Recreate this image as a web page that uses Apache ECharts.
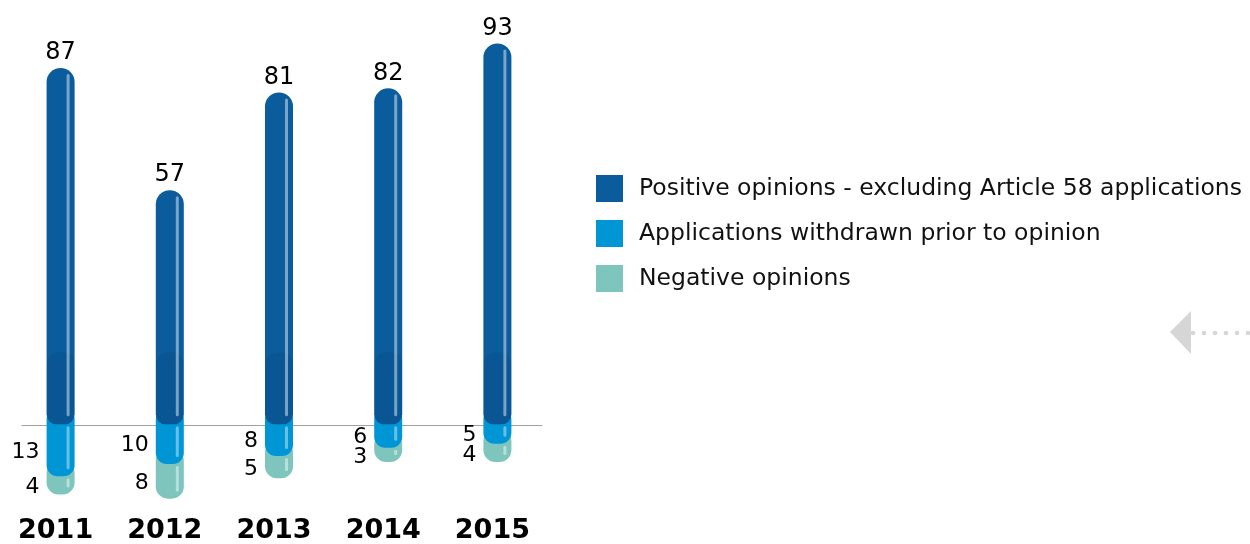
<!DOCTYPE html>
<html><head><meta charset="utf-8">
<script src="https://cdn.jsdelivr.net/npm/echarts@6/dist/echarts.min.js"></script>
<style>html,body{margin:0;padding:0;background:#fff}#c{width:1250px;height:544px}</style>
</head><body><div id="c"></div>
<script>
const years = ['2011','2012','2013','2014','2015'];
const positive = [87, 57, 81, 82, 93];
const withdrawn = [13, 10, 8, 6, 5];
const negative = [4, 8, 5, 3, 4];
const seriesNames = ['Positive opinions - excluding Article 58 applications','Applications withdrawn prior to opinion','Negative opinions'];
const colors = ['#0b5c9c', '#0096d6', '#7dc5bd'];

const FONT = 'DejaVu Sans';
const BW = 28;

function stripe(x, y1, y2, fill){
  return {type:'rect', shape:{x:x+BW-8, y:y1, width:3, height:Math.max(0,y2-y1), r:1.5}, style:{fill:fill}};
}

function renderPositive(params, api){
  const i = api.value(0), v = api.value(1);
  const top = api.coord([i, v]), base = api.coord([i, 0]);
  const x = top[0] - BW/2, bottom = base[1] + 2;
  const shadeTop = base[1] - 70;
  return {type:'group', children:[
    {type:'rect', shape:{x:x, y:top[1], width:BW, height:bottom-top[1], r:[14,14,10,10]}, style:{fill:colors[0]}},
    {type:'rect', shape:{x:x, y:shadeTop, width:BW, height:bottom-shadeTop, r:[12,12,10,10]}, style:{fill:'rgba(0,25,70,0.08)'}},
    stripe(x, top[1]+6, bottom-8, 'rgba(255,255,255,0.45)'),
    {type:'text', style:{x:top[0], y:top[1]-3, text:String(v), align:'center', verticalAlign:'bottom', font:'24px "'+FONT+'"', fill:'#000'}}
  ]};
}
function renderWithdrawn(params, api){
  const i = api.value(0), v = api.value(1);
  const base = api.coord([i, 0]), bot = api.coord([i, -v]);
  const x = base[0] - BW/2, top = base[1] - 14, bottom = bot[1] + 1;
  return {type:'group', children:[
    {type:'rect', shape:{x:x, y:top, width:BW, height:bottom-top, r:11}, style:{fill:colors[1]}},
    stripe(x, base[1]+4, bottom-7, 'rgba(255,255,255,0.4)'),
    {type:'text', style:{x:x-7, y:(base[1]+bot[1])/2+3, text:String(v), align:'right', verticalAlign:'middle', font:'22px "'+FONT+'"', fill:'#000'}}
  ]};
}
function renderNegative(params, api){
  const i = api.value(0), v = api.value(1), w = api.value(2);
  const t = api.coord([i, -w]), bot = api.coord([i, -(w+v)]);
  const x = t[0] - BW/2, top = t[1] - 14, bottom = bot[1] + 3;
  return {type:'group', children:[
    {type:'rect', shape:{x:x, y:top, width:BW, height:bottom-top, r:12}, style:{fill:colors[2]}},
    stripe(x, t[1]+3, bottom-7, 'rgba(255,255,255,0.45)'),
    {type:'text', style:{x:x-7, y:(t[1]+bot[1])/2+4, text:String(v), align:'right', verticalAlign:'middle', font:'22px "'+FONT+'"', fill:'#000'}}
  ]};
}

const chart = echarts.init(document.getElementById('c'));
const yCommon = {type:'value', min:-23, max:100, show:false};
chart.setOption({
  animation:false,
  grid:[
    {left:6, width:546, top:15, height:504.3},
    {left:22, width:520, top:15, height:504.3}
  ],
  xAxis:[
    {type:'category', gridIndex:0, data:years, axisLine:{show:false, onZero:false}, axisTick:{show:false},
     axisLabel:{margin:1, fontFamily:FONT, fontWeight:'bold', fontSize:27, color:'#000', padding:[0,10,0,0]}},
    {type:'category', gridIndex:1, data:years, axisLine:{show:true, onZero:true, lineStyle:{color:'#a0a0a0', width:1}}, axisTick:{show:false}, axisLabel:{show:false}}
  ],
  yAxis:[Object.assign({gridIndex:0}, yCommon), Object.assign({gridIndex:1}, yCommon)],
  legend:{
    orient:'vertical', left:596, top:175, padding:0, itemWidth:27, itemHeight:27, itemGap:18, icon:'rect',
    data:seriesNames,
    textStyle:{fontFamily:FONT, fontSize:23.5, color:'#111', padding:[0,0,0,11]}
  },
  series:[
    {name:seriesNames[2], type:'custom', xAxisIndex:0, yAxisIndex:0, itemStyle:{color:colors[2]},
     data:negative.map((v,i)=>[i, v, withdrawn[i]]), encode:{x:0, y:1}, renderItem:renderNegative},
    {name:seriesNames[1], type:'custom', xAxisIndex:0, yAxisIndex:0, itemStyle:{color:colors[1]},
     data:withdrawn.map((v,i)=>[i, v]), encode:{x:0, y:1}, renderItem:renderWithdrawn},
    {name:seriesNames[0], type:'custom', xAxisIndex:0, yAxisIndex:0, itemStyle:{color:colors[0]},
     data:positive.map((v,i)=>[i, v]), encode:{x:0, y:1}, renderItem:renderPositive}
  ],
  graphic:[
    {type:'polygon', shape:{points:[[1191,311],[1170,332],[1191,354]]}, style:{fill:'#d6d6d6'}},
    ...[1193,1204,1215,1226,1237,1248].map(cx=>({type:'circle', shape:{cx:cx, cy:333, r:2.3}, style:{fill:'#d6d6d6'}}))
  ]
});
</script></body></html>
